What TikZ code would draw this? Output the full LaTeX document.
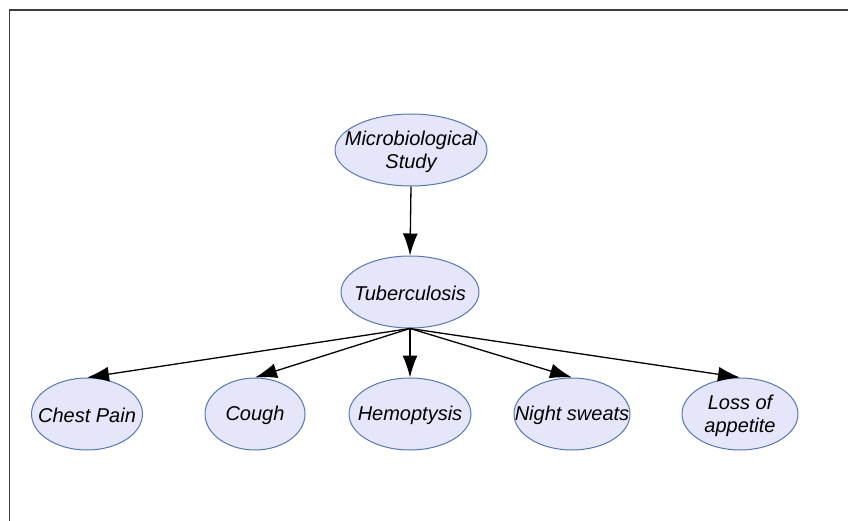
\documentclass[tikz,border=0pt]{standalone}
\usepackage{fontspec}
\setmainfont{Liberation Sans}
\usetikzlibrary{shapes.geometric,arrows.meta}
\definecolor{nodefill}{RGB}{230,230,250}
\definecolor{nodedraw}{RGB}{85,120,180}
\definecolor{framecol}{RGB}{60,60,60}
\tikzset{
  nd/.style={ellipse, draw=nodedraw, fill=nodefill, line width=1pt, inner sep=0pt},
  txt/.style={font=\fontsize{20}{23}\selectfont\itshape, align=center, inner sep=0pt, yshift=-1.5pt},
  conn/.style={line width=1.3pt, -{Latex[length=22pt,width=15pt]}}
}
\begin{document}
\begin{tikzpicture}[x=1pt,y=-1pt]
\useasboundingbox (0,0) rectangle (848,521);
\fill[white] (0,0) rectangle (848,521);
\draw[framecol, line width=1.5pt] (848,10) -- (9.5,10) -- (9.5,521);

\node[nd, minimum width=152pt, minimum height=72pt] (ms) at (411,150) {};
\node[txt] at (ms) {Microbiological\\Study};
\node[nd, minimum width=138pt, minimum height=72pt] (tb) at (410,292) {};
\node[txt] at (tb) {Tuberculosis};
\node[nd, minimum width=111pt, minimum height=72pt] (cp) at (87,414) {};
\node[txt] at (cp) {Chest Pain};
\node[nd, minimum width=100pt, minimum height=72pt] (co) at (255,414) {};
\node[txt] at (co) {Cough};
\node[nd, minimum width=122pt, minimum height=72pt] (he) at (410,414) {};
\node[txt] at (he) {Hemoptysis};
\node[nd, minimum width=116pt, minimum height=72pt] (ns) at (572,414) {};
\node[txt] at (ns) {Night sweats};
\node[nd, minimum width=116pt, minimum height=72pt] (la) at (740,414) {};
\node[txt] at (la) {Loss of\\appetite};

\draw[conn] (ms.south) -- (tb.north);
\draw[conn] (tb.south) -- (cp.north);
\draw[conn] (tb.south) -- (co.north);
\draw[conn] (tb.south) -- (he.north);
\draw[conn] (tb.south) -- (ns.north);
\draw[conn] (tb.south) -- (la.north);
\end{tikzpicture}
\end{document}
